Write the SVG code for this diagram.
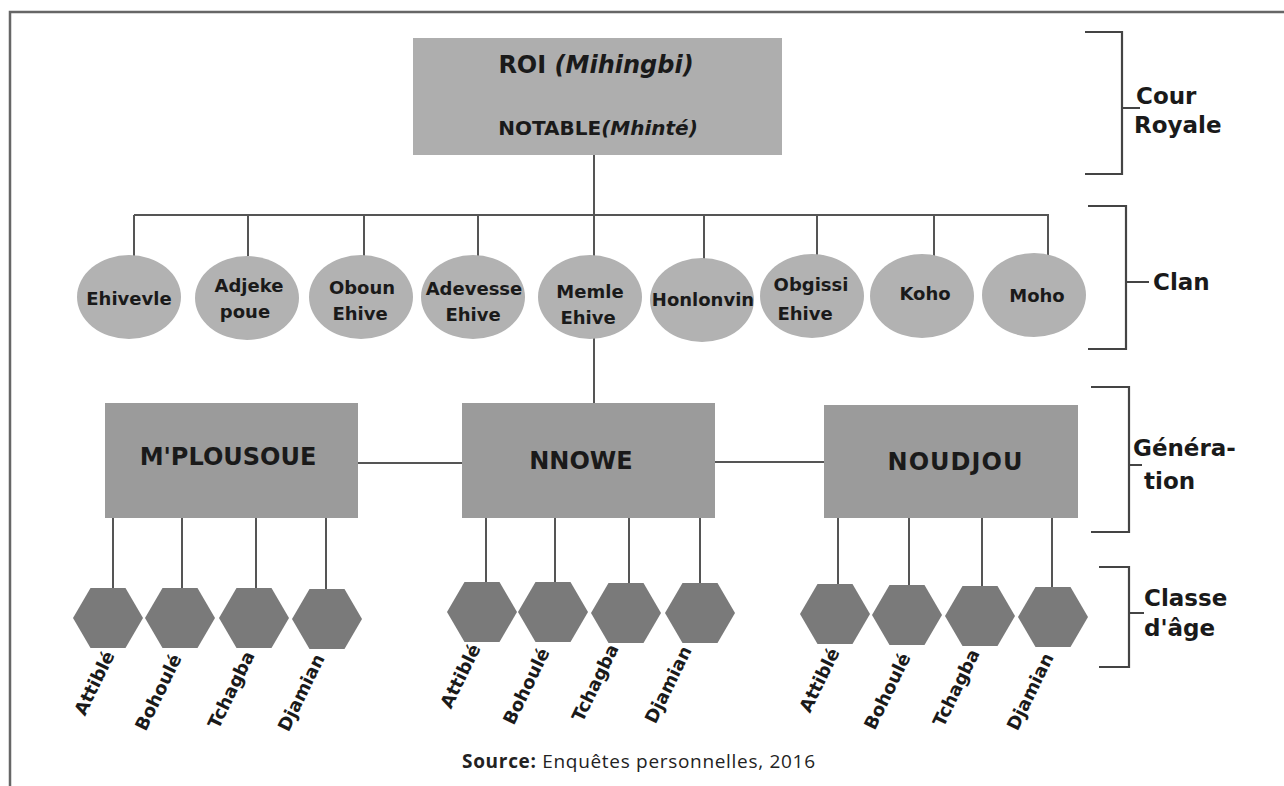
<svg xmlns="http://www.w3.org/2000/svg" width="1284" height="786" viewBox="0 0 1284 786">
<style>
.ln{stroke:#555;stroke-width:2;fill:none}
.br{stroke:#444;stroke-width:2.2;fill:none}
.t{font-family:"DejaVu Sans","Liberation Sans",sans-serif;font-weight:bold;fill:#1a1a1a}
.c{font-size:18px;text-anchor:middle}
.g{font-size:24px;text-anchor:middle}
.b{font-size:23px}
.h{font-size:18px;text-anchor:end}
.clan{fill:#b2b2b2}
.gen{fill:#9b9b9b}
.hx{fill:#7a7a7a}
</style>
<defs>
<polygon id="hex" points="-35,0 -17.5,-30 17.5,-30 35,0 17.5,30 -17.5,30"/>
</defs>
<rect width="1284" height="786" fill="#fff"/>
<path d="M1284 12 H10 V786" stroke="#666" stroke-width="2.5" fill="none"/>

<g id="connectors" class="ln">
<line x1="594" y1="155" x2="594" y2="256"/>
<line x1="134" y1="215" x2="1049" y2="215"/>
<line x1="134" y1="215" x2="134" y2="256"/>
<line x1="248" y1="215" x2="248" y2="256"/>
<line x1="364" y1="215" x2="364" y2="256"/>
<line x1="478" y1="215" x2="478" y2="256"/>
<line x1="704" y1="215" x2="704" y2="259"/>
<line x1="817" y1="215" x2="817" y2="255"/>
<line x1="934" y1="215" x2="934" y2="256"/>
<line x1="1048" y1="215" x2="1048" y2="255"/>
<line x1="594" y1="337" x2="594" y2="403"/>
<line x1="358" y1="463" x2="462" y2="463"/>
<line x1="715" y1="462" x2="824" y2="462"/>
<line x1="113" y1="518" x2="113" y2="588"/>
<line x1="182" y1="518" x2="182" y2="588"/>
<line x1="256" y1="518" x2="256" y2="588"/>
<line x1="326" y1="518" x2="326" y2="589"/>
<line x1="486" y1="518" x2="486" y2="582"/>
<line x1="555" y1="518" x2="555" y2="582"/>
<line x1="629" y1="518" x2="629" y2="583"/>
<line x1="700" y1="518" x2="700" y2="583"/>
<line x1="838" y1="518" x2="838" y2="584"/>
<line x1="909" y1="518" x2="909" y2="585"/>
<line x1="982" y1="518" x2="982" y2="586"/>
<line x1="1052" y1="518" x2="1052" y2="587"/>
</g>

<g id="roi">
<rect x="413" y="38" width="369" height="117" fill="#aeaeae"/>
<text class="t" x="596" y="73" font-size="24" text-anchor="middle">ROI <tspan font-style="italic">(Mihingbi)</tspan></text>
<text class="t" x="598" y="135" font-size="20" text-anchor="middle">NOTABLE<tspan font-style="italic">(Mhinté)</tspan></text>
</g>

<g id="clan-ehivevle"><ellipse class="clan" cx="129" cy="297" rx="52" ry="42"/><text class="t c" x="129" y="305">Ehivevle</text></g>
<g id="clan-adjeke"><ellipse class="clan" cx="247" cy="298" rx="52" ry="42"/><text class="t c" x="249" y="292">Adjeke</text><text class="t c" x="245" y="318">poue</text></g>
<g id="clan-oboun"><ellipse class="clan" cx="361" cy="297" rx="52" ry="42"/><text class="t c" x="362" y="294">Oboun</text><text class="t c" x="360" y="320">Ehive</text></g>
<g id="clan-adevesse"><ellipse class="clan" cx="473" cy="297" rx="52" ry="42"/><text class="t c" x="474" y="295">Adevesse</text><text class="t c" x="473" y="321">Ehive</text></g>
<g id="clan-memle"><ellipse class="clan" cx="590" cy="297" rx="52" ry="42"/><text class="t c" x="590" y="298">Memle</text><text class="t c" x="588" y="324">Ehive</text></g>
<g id="clan-honlonvin"><ellipse class="clan" cx="702" cy="300" rx="52" ry="42"/><text class="t c" x="703" y="306">Honlonvin</text></g>
<g id="clan-obgissi"><ellipse class="clan" cx="812" cy="296" rx="52" ry="42"/><text class="t c" x="811" y="291">Obgissi</text><text class="t c" x="805" y="320">Ehive</text></g>
<g id="clan-koho"><ellipse class="clan" cx="922" cy="296" rx="52" ry="42"/><text class="t c" x="925" y="300">Koho</text></g>
<g id="clan-moho"><ellipse class="clan" cx="1034" cy="295" rx="52" ry="42"/><text class="t c" x="1037" y="302">Moho</text></g>

<g id="gen-mplousoue"><rect class="gen" x="105" y="403" width="253" height="115"/><text class="t g" x="228" y="465">M'PLOUSOUE</text></g>
<g id="gen-nnowe"><rect class="gen" x="462" y="403" width="253" height="115"/><text class="t g" x="581" y="469">NNOWE</text></g>
<g id="gen-noudjou"><rect class="gen" x="824" y="405" width="254" height="113"/><text class="t g" x="955" y="470" textLength="135">NOUDJOU</text></g>

<g id="age-mplousoue">
<use href="#hex" class="hx" x="108" y="618"/>
<use href="#hex" class="hx" x="180" y="618"/>
<use href="#hex" class="hx" x="254" y="618"/>
<use href="#hex" class="hx" x="327" y="619"/>
<text class="t h" transform="translate(115 655) rotate(-64)">Attiblé</text>
<text class="t h" transform="translate(182 658) rotate(-64)">Bohoulé</text>
<text class="t h" transform="translate(255 655) rotate(-64)">Tchagba</text>
<text class="t h" transform="translate(325 658) rotate(-64)">Djamian</text>
</g>
<g id="age-nnowe">
<use href="#hex" class="hx" x="482" y="612"/>
<use href="#hex" class="hx" x="553" y="612"/>
<use href="#hex" class="hx" x="626" y="613"/>
<use href="#hex" class="hx" x="700" y="613"/>
<text class="t h" transform="translate(481 648) rotate(-64)">Attiblé</text>
<text class="t h" transform="translate(550 652) rotate(-64)">Bohoulé</text>
<text class="t h" transform="translate(619 648) rotate(-64)">Tchagba</text>
<text class="t h" transform="translate(692 650) rotate(-64)">Djamian</text>
</g>
<g id="age-noudjou">
<use href="#hex" class="hx" x="835" y="614"/>
<use href="#hex" class="hx" x="907" y="615"/>
<use href="#hex" class="hx" x="980" y="616"/>
<use href="#hex" class="hx" x="1053" y="617"/>
<text class="t h" transform="translate(840 652) rotate(-64)">Attiblé</text>
<text class="t h" transform="translate(911 657) rotate(-64)">Bohoulé</text>
<text class="t h" transform="translate(980 653) rotate(-64)">Tchagba</text>
<text class="t h" transform="translate(1054 657) rotate(-64)">Djamian</text>
</g>

<g id="bracket-cour">
<path class="br" d="M1085 32 H1122 V174 H1085 M1122 108 H1140"/>
<text class="t b" x="1136" y="104">Cour</text>
<text class="t b" x="1134" y="133">Royale</text>
</g>
<g id="bracket-clan">
<path class="br" d="M1088 206 H1126 V349 H1088 M1126 282 H1149"/>
<text class="t b" x="1153" y="290">Clan</text>
</g>
<g id="bracket-generation">
<path class="br" d="M1091 387 H1129 V532 H1091 M1129 465 H1142"/>
<text class="t b" x="1133" y="456" font-size="21">Généra-</text>
<text class="t b" x="1144" y="489">tion</text>
</g>
<g id="bracket-classe">
<path class="br" d="M1099 567 H1129 V667 H1099 M1129 613 H1144"/>
<text class="t b" x="1144" y="606" font-size="22">Classe</text>
<text class="t b" x="1144" y="636" font-size="22">d'âge</text>
</g>

<g id="source">
<text x="462" y="768" font-family="Open Sans, DejaVu Sans, sans-serif" font-size="19" fill="#222" textLength="353"><tspan font-weight="bold">Source:</tspan> Enquêtes personnelles, 2016</text>
</g>
</svg>
